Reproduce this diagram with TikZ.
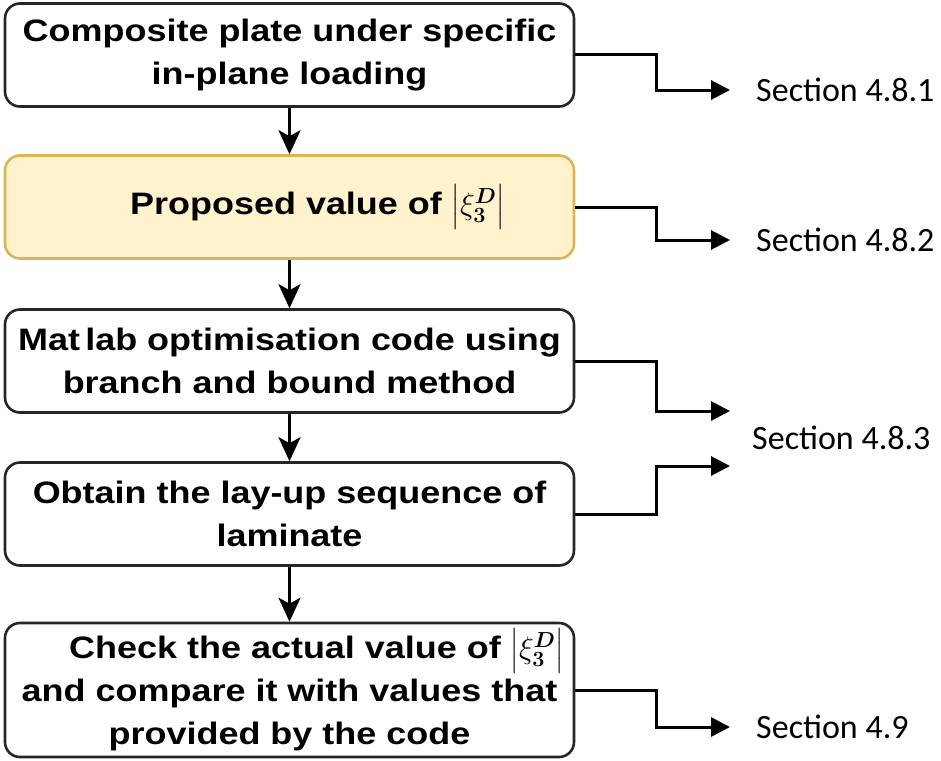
\RequirePackage{fix-cm}
\documentclass[tikz,border=0pt]{standalone}
\usepackage{amsmath}
\usepackage{bm}
\usepackage{fontspec}
\newfontfamily\boxfont{Liberation Sans}[FakeStretch=1.16]
\newfontfamily\secfont{Carlito}
\usepackage{tikz}
\usetikzlibrary{arrows.meta, calc}

\definecolor{propfill}{HTML}{FFF2CC}
\definecolor{propdraw}{HTML}{D6B656}

\begin{document}
\begin{tikzpicture}[x=1pt, y=-1pt,
    stepbox/.style={draw=black!85, line width=2.6pt, rounded corners=15pt,
        minimum width=569pt, minimum height=103pt, inner sep=0pt, align=center,
        font=\boxfont\bfseries\fontsize{31}{43}\selectfont},
    seclabel/.style={anchor=west, inner sep=0pt, font=\secfont\fontsize{34}{40}\selectfont},
    flow/.style={line width=3pt, -{Stealth[length=24pt, width=22pt, inset=6pt]}},
    link/.style={line width=3pt, shorten >=26pt, -{Triangle[length=19pt, width=19pt]}}]
    % 余白
    \useasboundingbox (0,0) rectangle (941,760);

    % 手順のボックス
    \node[stepbox] (plate) at (289.5,55) {Composite plate under specific\\in-plane loading};
    \node[stepbox, fill=propfill, draw=propdraw] (prop) at (289.5,207)
        {\hspace*{56pt}Proposed value of $\left|\xi^{\bm{D}}_{\bm{3}}\right|$};
    \node[stepbox] (code) at (289.5,361) {Mat\,lab optimisation code using\\branch and bound method};
    \node[stepbox] (layup) at (289.5,514) {Obtain the lay-up sequence of\\laminate};
    \node[stepbox, minimum height=134pt] (check) at (289.5,690)
        {\hspace*{54pt}Check the actual value of $\left|\xi^{\bm{D}}_{\bm{3}}\right|$\\and compare it with values that\\provided by the code};

    % 流れの矢印
    \draw[flow] (plate) -- (prop);
    \draw[flow] (prop) -- (code);
    \draw[flow] (code) -- (layup);
    \draw[flow] (layup) -- (check);

    % 節番号
    \node[seclabel] (sec1) at (756,90) {Section 4.8.1};
    \node[seclabel] (sec2) at (756,240) {Section 4.8.2};
    \node[seclabel] (sec3) at (752,438) {Section 4.8.3};
    \node[seclabel] (sec4) at (756,727) {Section 4.9};
    \coordinate (in3a) at (730,411);
    \coordinate (in3b) at (730,466);

    % 節への矢印
    \draw[link] (plate.east) -- ++(81,0) |- (sec1.west);
    \draw[link] (prop.east) -- ++(81,0) |- (sec2.west);
    \draw[link, shorten >=0pt] (code.east) -- ++(81,0) |- (in3a);
    \draw[link, shorten >=0pt] (layup.east) -- ++(81,0) |- (in3b);
    \draw[link] (check.east) -- ++(81,0) |- (sec4.west);
\end{tikzpicture}
\end{document}
